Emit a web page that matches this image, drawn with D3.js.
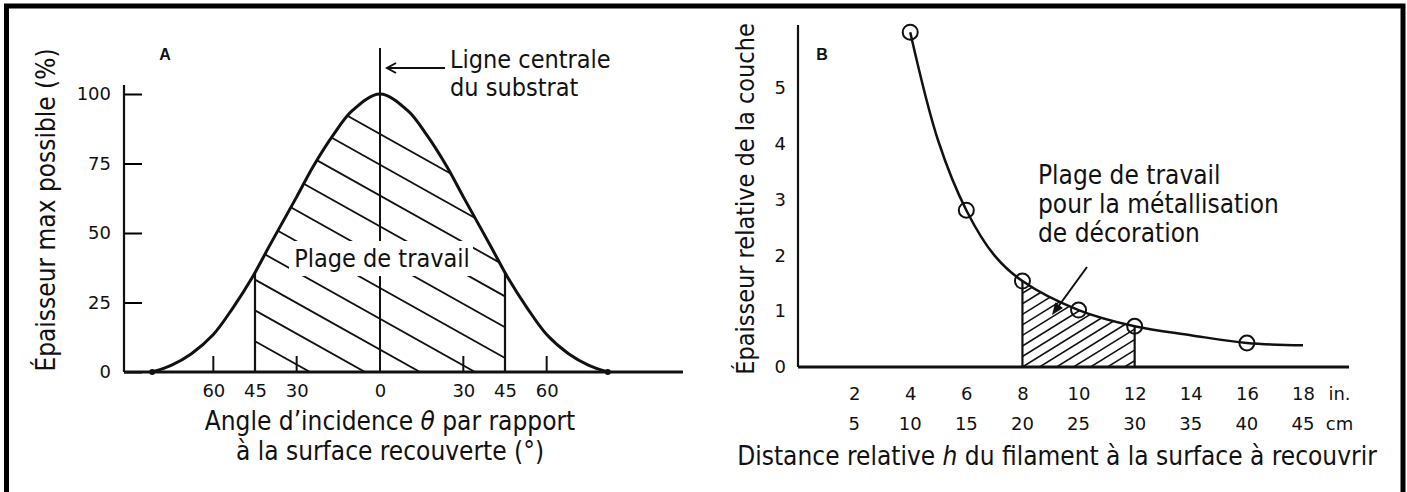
<!DOCTYPE html>
<html>
<head>
<meta charset="utf-8">
<script src="https://cdn.jsdelivr.net/npm/d3@7"></script>
<style>
  html, body { margin: 0; padding: 0; background: #fff; }
  svg { display: block; }
  text { font-family: "DejaVu Sans Condensed", "DejaVu Sans", sans-serif; fill: #111; }
  .num text, text.num { font-family: "DejaVu Sans", sans-serif; }
</style>
</head>
<body>
<div id="chart"></div>
<script>
// --- panel A : thickness vs angle of incidence
const angleA = [-82, -75, -68, -60, -53, -46, -40, -35, -30, -24, -17, -10, 0, 10, 17, 24, 30, 35, 40, 46, 53, 60, 68, 75, 82];
const thickA = [0, 2.5, 6.5, 13.5, 23, 34, 45, 54, 63, 74, 85, 94, 100, 94, 85, 74, 63, 54, 45, 34, 23, 13.5, 6.5, 2.5, 0];
const yTicksA = [0, 25, 50, 75, 100];
const xLabelsA = [-60, -45, -30, 0, 30, 45, 60];
const xMarksA = [-60, -30, 30, 60];
const workA = [-45, 45];

// --- panel B : relative thickness vs distance h
const distIn = [4, 5, 6, 7, 8, 10, 12, 14, 16, 18];
const thickB = [6.0, 4.05, 2.81, 2.0, 1.54, 1.02, 0.73, 0.57, 0.43, 0.39];
const measuredIn = [4, 6, 8, 10, 12, 16];
const yTicksB = [0, 1, 2, 3, 4, 5];
const inTicks = [2, 4, 6, 8, 10, 12, 14, 16, 18];
const cmTicks = [5, 10, 15, 20, 25, 30, 35, 40, 45];
const workB = [8, 12];

const W = 1407, H = 492;
const svg = d3.select("#chart").append("svg").attr("width", W).attr("height", H);
const defs = svg.append("defs");

// frame (no bottom edge visible)
svg.append("path")
  .attr("d", `M6.5,${H + 10} V6 H1403 V${H + 10}`)
  .attr("fill", "none").attr("stroke", "#000").attr("stroke-width", 5);

// ================= A =================
const xA = d3.scaleLinear().domain([-90, 90]).range([130, 630]);
const yA = d3.scaleLinear().domain([0, 100]).range([372, 94]);
const ptsA = angleA.map((a, i) => [a, thickA[i]]);

const lineA = d3.line().x(d => xA(d[0])).y(d => yA(d[1])).curve(d3.curveCatmullRom.alpha(0.5));
const areaA = d3.area().x(d => xA(d[0])).y0(yA(0)).y1(d => yA(d[1])).curve(d3.curveCatmullRom.alpha(0.5));

defs.append("clipPath").attr("id", "areaA").append("path").attr("d", areaA(ptsA));
defs.append("clipPath").attr("id", "rectA").append("rect")
  .attr("x", xA(workA[0])).attr("y", 0)
  .attr("width", xA(workA[1]) - xA(workA[0])).attr("height", yA(0));

const gA = svg.append("g");
const underA = gA.append("g").attr("clip-path", "url(#areaA)");
// boundaries of the working range
underA.selectAll("line.edge").data(workA).join("line")
  .attr("x1", d => xA(d)).attr("x2", d => xA(d))
  .attr("y1", yA(0)).attr("y2", 0)
  .attr("stroke", "#111").attr("stroke-width", 2.2);
// hatching "\"
const hatchA = underA.append("g").attr("clip-path", "url(#rectA)");
const slopeA = 0.56;
d3.range(-6, 10).forEach(k => {
  const x0 = 310 + 55 * k;
  hatchA.append("line")
    .attr("x1", x0 - 500).attr("y1", yA(0) - slopeA * 500)
    .attr("x2", x0 + 20).attr("y2", yA(0) + slopeA * 20)
    .attr("stroke", "#111").attr("stroke-width", 1.8);
});

// centre line of substrate
gA.append("line")
  .attr("x1", xA(0)).attr("x2", xA(0)).attr("y1", 48).attr("y2", yA(0))
  .attr("stroke", "#111").attr("stroke-width", 2);

// label "Plage de travail" over the hatching
gA.append("rect").attr("x", 289).attr("y", 241).attr("width", 184).attr("height", 35).attr("fill", "#fff");
gA.append("text").attr("x", 382).attr("y", 267).attr("text-anchor", "middle")
  .attr("font-size", 25).text("Plage de travail");

// curve
gA.append("path").attr("d", lineA(ptsA))
  .attr("fill", "none").attr("stroke", "#111").attr("stroke-width", 3);
gA.selectAll("circle.end").data([ptsA[0], ptsA[ptsA.length - 1]]).join("circle")
  .attr("cx", d => xA(d[0])).attr("cy", d => yA(d[1])).attr("r", 3).attr("fill", "#111");

// y axis
gA.append("line").attr("x1", 124).attr("x2", 124).attr("y1", 85).attr("y2", yA(0))
  .attr("stroke", "#111").attr("stroke-width", 2.2);
const axYA = gA.append("g").attr("class", "num").attr("transform", "translate(124,0)")
  .call(d3.axisLeft(yA).tickValues(yTicksA).tickSize(-18).tickPadding(13));
axYA.select(".domain").remove();
axYA.attr("font-size", 18).selectAll("line").attr("stroke-width", 2);

// baseline + x ticks
gA.append("line").attr("x1", 124).attr("x2", 683).attr("y1", yA(0)).attr("y2", yA(0))
  .attr("stroke", "#111").attr("stroke-width", 3);
gA.selectAll("line.mark").data(xMarksA).join("line")
  .attr("x1", d => xA(d)).attr("x2", d => xA(d))
  .attr("y1", yA(0)).attr("y2", yA(0) - 16)
  .attr("stroke", "#111").attr("stroke-width", 2);
const axXA = gA.append("g").attr("class", "num").attr("transform", `translate(0,${yA(0)})`)
  .call(d3.axisBottom(xA).tickValues(xLabelsA).tickSize(0).tickPadding(12).tickFormat(d => Math.abs(d)));
axXA.select(".domain").remove();
axXA.attr("font-size", 18);

// titles and notes
gA.append("text").attr("transform", "translate(46,210) rotate(-90)").attr("dy", "0.35em")
  .attr("text-anchor", "middle").attr("font-size", 26).text("Épaisseur max possible (%)");
const tA = gA.append("text").attr("x", 390).attr("y", 430).attr("text-anchor", "middle").attr("font-size", 26);
tA.append("tspan").text("Angle d’incidence ");
tA.append("tspan").attr("font-style", "italic").text("θ");
tA.append("tspan").text(" par rapport");
gA.append("text").attr("x", 390).attr("y", 460).attr("text-anchor", "middle")
  .attr("font-size", 26).text("à la surface recouverte (°)");

gA.append("text").attr("x", 165).attr("y", 60).attr("text-anchor", "middle")
  .attr("font-size", 16).attr("font-weight", "bold").style("font-family", "Liberation Sans, Arial, sans-serif").text("A");

gA.append("text").attr("x", 450).attr("y", 68).attr("font-size", 25).text("Ligne centrale");
gA.append("text").attr("x", 450).attr("y", 96).attr("font-size", 25).text("du substrat");
gA.append("line").attr("x1", 445).attr("x2", 387).attr("y1", 68).attr("y2", 68)
  .attr("stroke", "#111").attr("stroke-width", 2);
gA.append("path").attr("d", "M396,63 L387,68 L396,73")
  .attr("fill", "none").attr("stroke", "#111").attr("stroke-width", 2);

// ================= B =================
const xB = d3.scaleLinear().domain([0, 18]).range([798, 1303]);
const yB = d3.scaleLinear().domain([0, 5]).range([367, 88]);
const ptsB = distIn.map((h, i) => [h, thickB[i]]);

const lineB = d3.line().x(d => xB(d[0])).y(d => yB(d[1])).curve(d3.curveCatmullRom.alpha(0.5));
const areaB = d3.area().x(d => xB(d[0])).y0(yB(0)).y1(d => yB(d[1])).curve(d3.curveCatmullRom.alpha(0.5));

defs.append("clipPath").attr("id", "areaB").append("path").attr("d", areaB(ptsB));
defs.append("clipPath").attr("id", "rectB").append("rect")
  .attr("x", xB(workB[0])).attr("y", 0)
  .attr("width", xB(workB[1]) - xB(workB[0])).attr("height", yB(0));

const gB = svg.append("g");
const underB = gB.append("g").attr("clip-path", "url(#areaB)");
underB.selectAll("line.edge").data(workB).join("line")
  .attr("x1", d => xB(d)).attr("x2", d => xB(d))
  .attr("y1", yB(0)).attr("y2", 0)
  .attr("stroke", "#111").attr("stroke-width", 2.2);
const hatchB = underB.append("g").attr("clip-path", "url(#rectB)");
const slopeB = 0.62;
d3.range(-12, 10).forEach(k => {
  const x0 = xB(workB[0]) + 17 * k;
  hatchB.append("line")
    .attr("x1", x0 - 10).attr("y1", yB(0) + slopeB * 10)
    .attr("x2", x0 + 300).attr("y2", yB(0) - slopeB * 300)
    .attr("stroke", "#111").attr("stroke-width", 1.6);
});

gB.append("path").attr("d", lineB(ptsB))
  .attr("fill", "none").attr("stroke", "#111").attr("stroke-width", 2.5);
gB.selectAll("circle.pt").data(measuredIn).join("circle")
  .attr("cx", d => xB(d)).attr("cy", d => yB(thickB[distIn.indexOf(d)]))
  .attr("r", 7.5).attr("fill", "none").attr("stroke", "#111").attr("stroke-width", 2);

// axes
gB.append("line").attr("x1", 798).attr("x2", 798).attr("y1", 25).attr("y2", yB(0))
  .attr("stroke", "#111").attr("stroke-width", 2.2);
gB.append("line").attr("x1", 798).attr("x2", 1349).attr("y1", yB(0)).attr("y2", yB(0))
  .attr("stroke", "#111").attr("stroke-width", 3);
const axYB = gB.append("g").attr("class", "num").attr("transform", "translate(798,0)")
  .call(d3.axisLeft(yB).tickValues(yTicksB).tickSize(0).tickPadding(12).tickFormat(d3.format("d")));
axYB.select(".domain").remove();
axYB.attr("font-size", 18);

const axXB = gB.append("g").attr("class", "num").attr("transform", `translate(0,${yB(0)})`)
  .call(d3.axisBottom(xB).tickValues(inTicks).tickSize(0).tickPadding(20));
axXB.select(".domain").remove();
axXB.attr("font-size", 18);
gB.selectAll("text.cm").data(cmTicks).join("text").attr("class", "num")
  .attr("x", (d, i) => xB(inTicks[i])).attr("y", 430)
  .attr("text-anchor", "middle").attr("font-size", 18).text(d => d);
gB.append("text").attr("class", "num").attr("x", xB(19.3)).attr("y", 400).attr("text-anchor", "middle").attr("font-size", 18).text("in.");
gB.append("text").attr("class", "num").attr("x", xB(19.3)).attr("y", 430).attr("text-anchor", "middle").attr("font-size", 18).text("cm");

gB.append("text").attr("transform", "translate(745,199) rotate(-90)").attr("dy", "0.35em")
  .attr("text-anchor", "middle").attr("font-size", 25).text("Épaisseur relative de la couche");
const tB = gB.append("text").attr("x", 1057).attr("y", 465).attr("text-anchor", "middle").attr("font-size", 26);
tB.append("tspan").text("Distance relative ");
tB.append("tspan").attr("font-style", "italic").text("h");
tB.append("tspan").text(" du filament à la surface à recouvrir");

gB.append("text").attr("x", 822).attr("y", 60).attr("text-anchor", "middle")
  .attr("font-size", 16).attr("font-weight", "bold").style("font-family", "Liberation Sans, Arial, sans-serif").text("B");

["Plage de travail", "pour la métallisation", "de décoration"].forEach((s, i) => {
  gB.append("text").attr("x", 1038).attr("y", 184 + 29 * i).attr("font-size", 26).text(s);
});
// arrow to the working range
gB.append("line").attr("x1", 1087).attr("y1", 267).attr("x2", 1055).attr("y2", 311)
  .attr("stroke", "#111").attr("stroke-width", 2);
{
  const ex = 1052, ey = 315, ang = Math.atan2(315 - 267, 1052 - 1087), L = 13, sp = 0.38;
  const p1 = [ex - L * Math.cos(ang - sp), ey - L * Math.sin(ang - sp)];
  const p2 = [ex - L * Math.cos(ang + sp), ey - L * Math.sin(ang + sp)];
  gB.append("path").attr("d", `M${ex},${ey} L${p1} L${p2} Z`).attr("fill", "#111");
}
</script>
</body>
</html>
